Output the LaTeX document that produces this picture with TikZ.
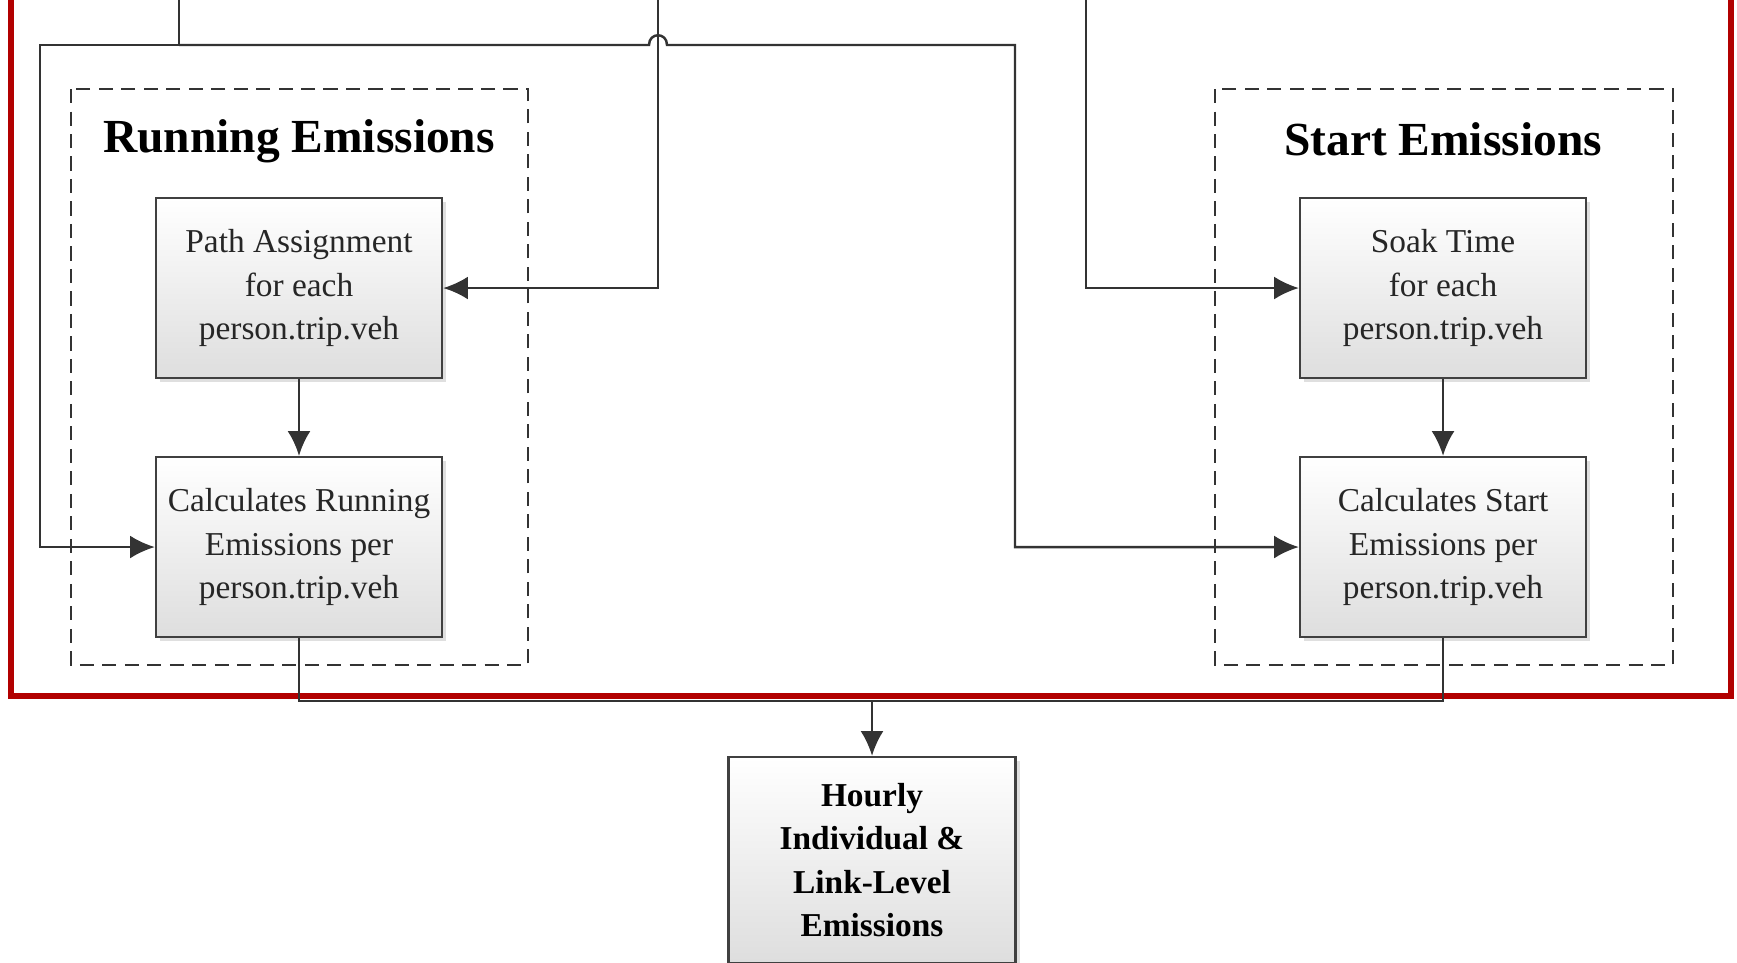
\documentclass[tikz,border=0pt]{standalone}
\usepackage{fontspec}
\setmainfont{Liberation Serif}
\usetikzlibrary{arrows.meta,shadows}

\tikzset{
  procbox/.style={draw=black!75, line width=0.7pt, top color=white, bottom color=black!13,
    drop shadow={shadow xshift=1.2pt,shadow yshift=-1.2pt,opacity=0.25},
    minimum width=28.6mm, minimum height=18mm, inner sep=0pt, align=center,
    text=black!85, font=\fontsize{9.5}{12.5}\selectfont},
  groupbox/.style={draw=black!80, line width=0.6pt, dash pattern=on 4pt off 2.4pt},
  link/.style={draw=black!80, line width=0.7pt},
  grouptitle/.style={font=\fontsize{13.5}{16}\selectfont\bfseries}
}

\begin{document}
\begin{tikzpicture}[x=0.1mm,y=-0.1mm,>={Latex[length=7pt,width=6.5pt]}]
  \useasboundingbox (0,0) rectangle (1737,962);

  % Outer frame
  \draw[red!70!black,line width=1.5pt] (11,-20) rectangle (1731,696);

  % Groups
  \draw[groupbox] (71,89) rectangle (528,665);
  \draw[groupbox] (1215,89) rectangle (1673,665);
  \node[grouptitle] (runTitle) at (299,141) {Running Emissions};
  \node[grouptitle] (startTitle) at (1443,139) {Start Emissions};

  % Process boxes
  \node[procbox] (path) at (299,288) {Path Assignment\\for each\\person.trip.veh};
  \node[procbox] (calcR) at (299,547) {Calculates Running\\Emissions per\\person.trip.veh};
  \node[procbox] (soak) at (1443,288) {Soak Time\\for each\\person.trip.veh};
  \node[procbox] (calcS) at (1443,547) {Calculates Start\\Emissions per\\person.trip.veh};
  \node[procbox,minimum width=28.7mm,minimum height=20.6mm,text=black,
    font=\fontsize{9.5}{12.3}\selectfont\bfseries] (hourly) at (872,860)
    {Hourly\\Individual \&\\Link-Level\\Emissions};

  % Incoming lines
  \coordinate (inA) at (179,0);
  \coordinate (inB) at (658,0);
  \coordinate (inC) at (1086,0);
  \coordinate (split) at (179,45);
  \coordinate (cornerL) at (40,45);
  \coordinate (cornerR) at (1015,45);
  \coordinate (hopL) at (649,45);
  \coordinate (hopR) at (667,45);
  \coordinate (bus) at (872,701);

  \draw[link] (inA) -- (split);
  \draw[link,->] (split) -- (cornerL) |- (calcR.west);
  \draw[link,->] (split) -- (hopL) .. controls (649,32) and (667,32) .. (hopR)
    -- (cornerR) |- (calcS.west);
  \draw[link,->] (inB) |- (path.east);
  \draw[link,->] (inC) |- (soak.west);
  \draw[link,->] (path) -- (calcR);
  \draw[link,->] (soak) -- (calcS);

  % Output
  \draw[link] (calcR.south) |- (bus) -| (calcS.south);
  \draw[link,->] (bus) -- (hourly);
\end{tikzpicture}
\end{document}
